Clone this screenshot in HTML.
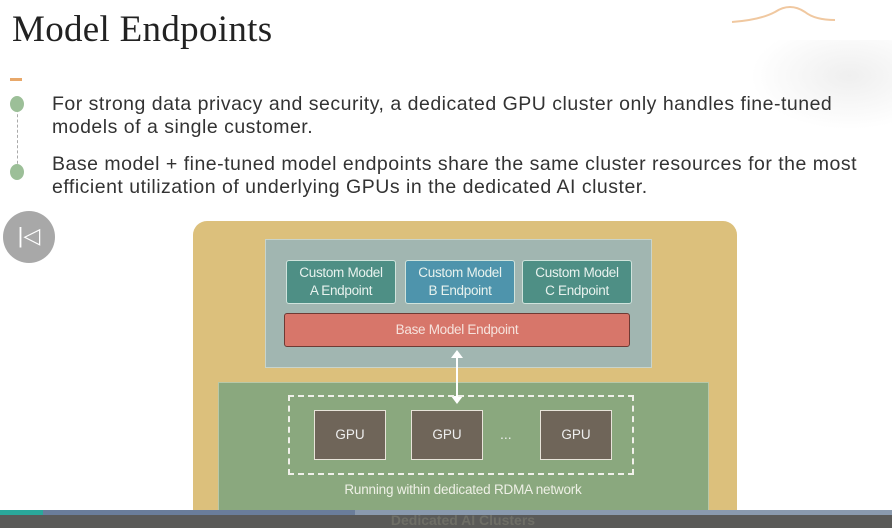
<!DOCTYPE html>
<html><head><style>
html,body{margin:0;width:892px;height:528px;overflow:hidden}
body{background:#fff;position:relative;font-family:"Liberation Sans",sans-serif}
div{position:absolute;box-sizing:border-box}
.t{font-family:"Liberation Sans",sans-serif;color:#333;font-size:19.5px;left:52px;line-height:23px;letter-spacing:0.5px;white-space:nowrap}
.cm{top:260px;height:44px;border:1.5px solid #cfe3dc;border-radius:3px;color:#e8f2ee;font-size:13.5px;text-align:center;line-height:18px;padding-top:3px;letter-spacing:-0.3px}
.gpu{top:410px;width:72px;height:50px;background:#6f6559;border:1.5px solid #e8e4da;color:#eee;font-size:13.5px;text-align:center;line-height:47px}
</style></head><body>
<div style="left:12px;top:8px;font-family:'Liberation Serif',serif;font-size:37px;color:#222;letter-spacing:0.3px">Model Endpoints</div>
<svg style="position:absolute;left:730px;top:2px" width="110" height="28"><path d="M2 20 Q30 18 45 10 Q60 0 75 10 Q85 18 105 18" stroke="#f0c8a0" stroke-width="2" fill="none"/></svg>
<div style="left:750px;top:40px;width:142px;height:90px;background:radial-gradient(ellipse at 70% 40%,#efefef,#fff 70%)"></div>
<div style="left:10px;top:78px;width:12px;height:3px;background:#e8a86a"></div>
<div style="left:17px;top:104px;width:0;height:70px;border-left:1px dashed #aaa"></div>
<div style="left:10px;top:96px;width:14px;height:16px;border-radius:50%;background:#9cbf98"></div>
<div style="left:10px;top:164px;width:14px;height:16px;border-radius:50%;background:#9cbf98"></div>
<div class="t" style="top:93px">For strong data privacy and security, a dedicated GPU cluster only handles fine-tuned<br>models of a single customer.</div>
<div class="t" style="top:153px">Base model + fine-tuned model endpoints share the same cluster resources for the most<br>efficient utilization of underlying GPUs in the dedicated AI cluster.</div>
<div style="left:3px;top:211px;width:52px;height:52px;border-radius:50%;background:#a8a8a8;color:#fff;font-size:22px;text-align:center;line-height:50px">|◁</div>
<div style="left:193px;top:221px;width:544px;height:320px;background:#dcc07c;border-radius:14px"></div>
<div style="left:265px;top:239px;width:387px;height:129px;background:#a1b6b1;border:1px solid #c8d4cc"></div>
<div class="cm" style="left:286px;width:110px;background:#4e8f85">Custom Model<br>A Endpoint</div>
<div class="cm" style="left:405px;width:110px;background:#4e94ac">Custom Model<br>B Endpoint</div>
<div class="cm" style="left:522px;width:110px;background:#4e8f85">Custom Model<br>C Endpoint</div>
<div style="left:284px;top:313px;width:346px;height:34px;background:#d7766a;border:1.5px solid #6e3a34;border-radius:3px;color:#f6e2dc;font-size:13.5px;text-align:center;line-height:31px;letter-spacing:-0.3px">Base Model Endpoint</div>
<div style="left:218px;top:382px;width:491px;height:160px;background:#8aa87e;border:1px solid #b8c8a8"></div>
<svg style="position:absolute;left:447px;top:348px" width="20" height="60"><line x1="10" y1="8" x2="10" y2="50" stroke="#fff" stroke-width="2"/><path d="M4 10 L10 2 L16 10Z M4 48 L10 56 L16 48Z" fill="#fff"/></svg>
<div style="left:288px;top:395px;width:346px;height:80px;border:2px dashed #f0f0ea"></div>
<div class="gpu" style="left:314px">GPU</div>
<div class="gpu" style="left:411px">GPU</div>
<div class="gpu" style="left:540px">GPU</div>
<div style="left:500px;top:426px;color:#eee;font-size:14px">...</div>
<div style="left:288px;top:482px;width:350px;text-align:center;color:#eef0e6;font-size:13.5px;letter-spacing:-0.2px">Running within dedicated RDMA network</div>
<div style="left:0;top:510px;width:892px;height:18px;background:#5a5a58"></div>
<div style="left:0;top:510px;width:355px;height:5px;background:#6a7d9a"></div>
<div style="left:0;top:510px;width:43px;height:5px;background:#2aa89a"></div>
<div style="left:355px;top:510px;width:537px;height:5px;background:#8a9aae"></div>
<div style="left:288px;top:512px;width:350px;text-align:center;color:#6e6e66;font-size:14px;font-weight:bold">Dedicated AI Clusters</div>
</body></html>
